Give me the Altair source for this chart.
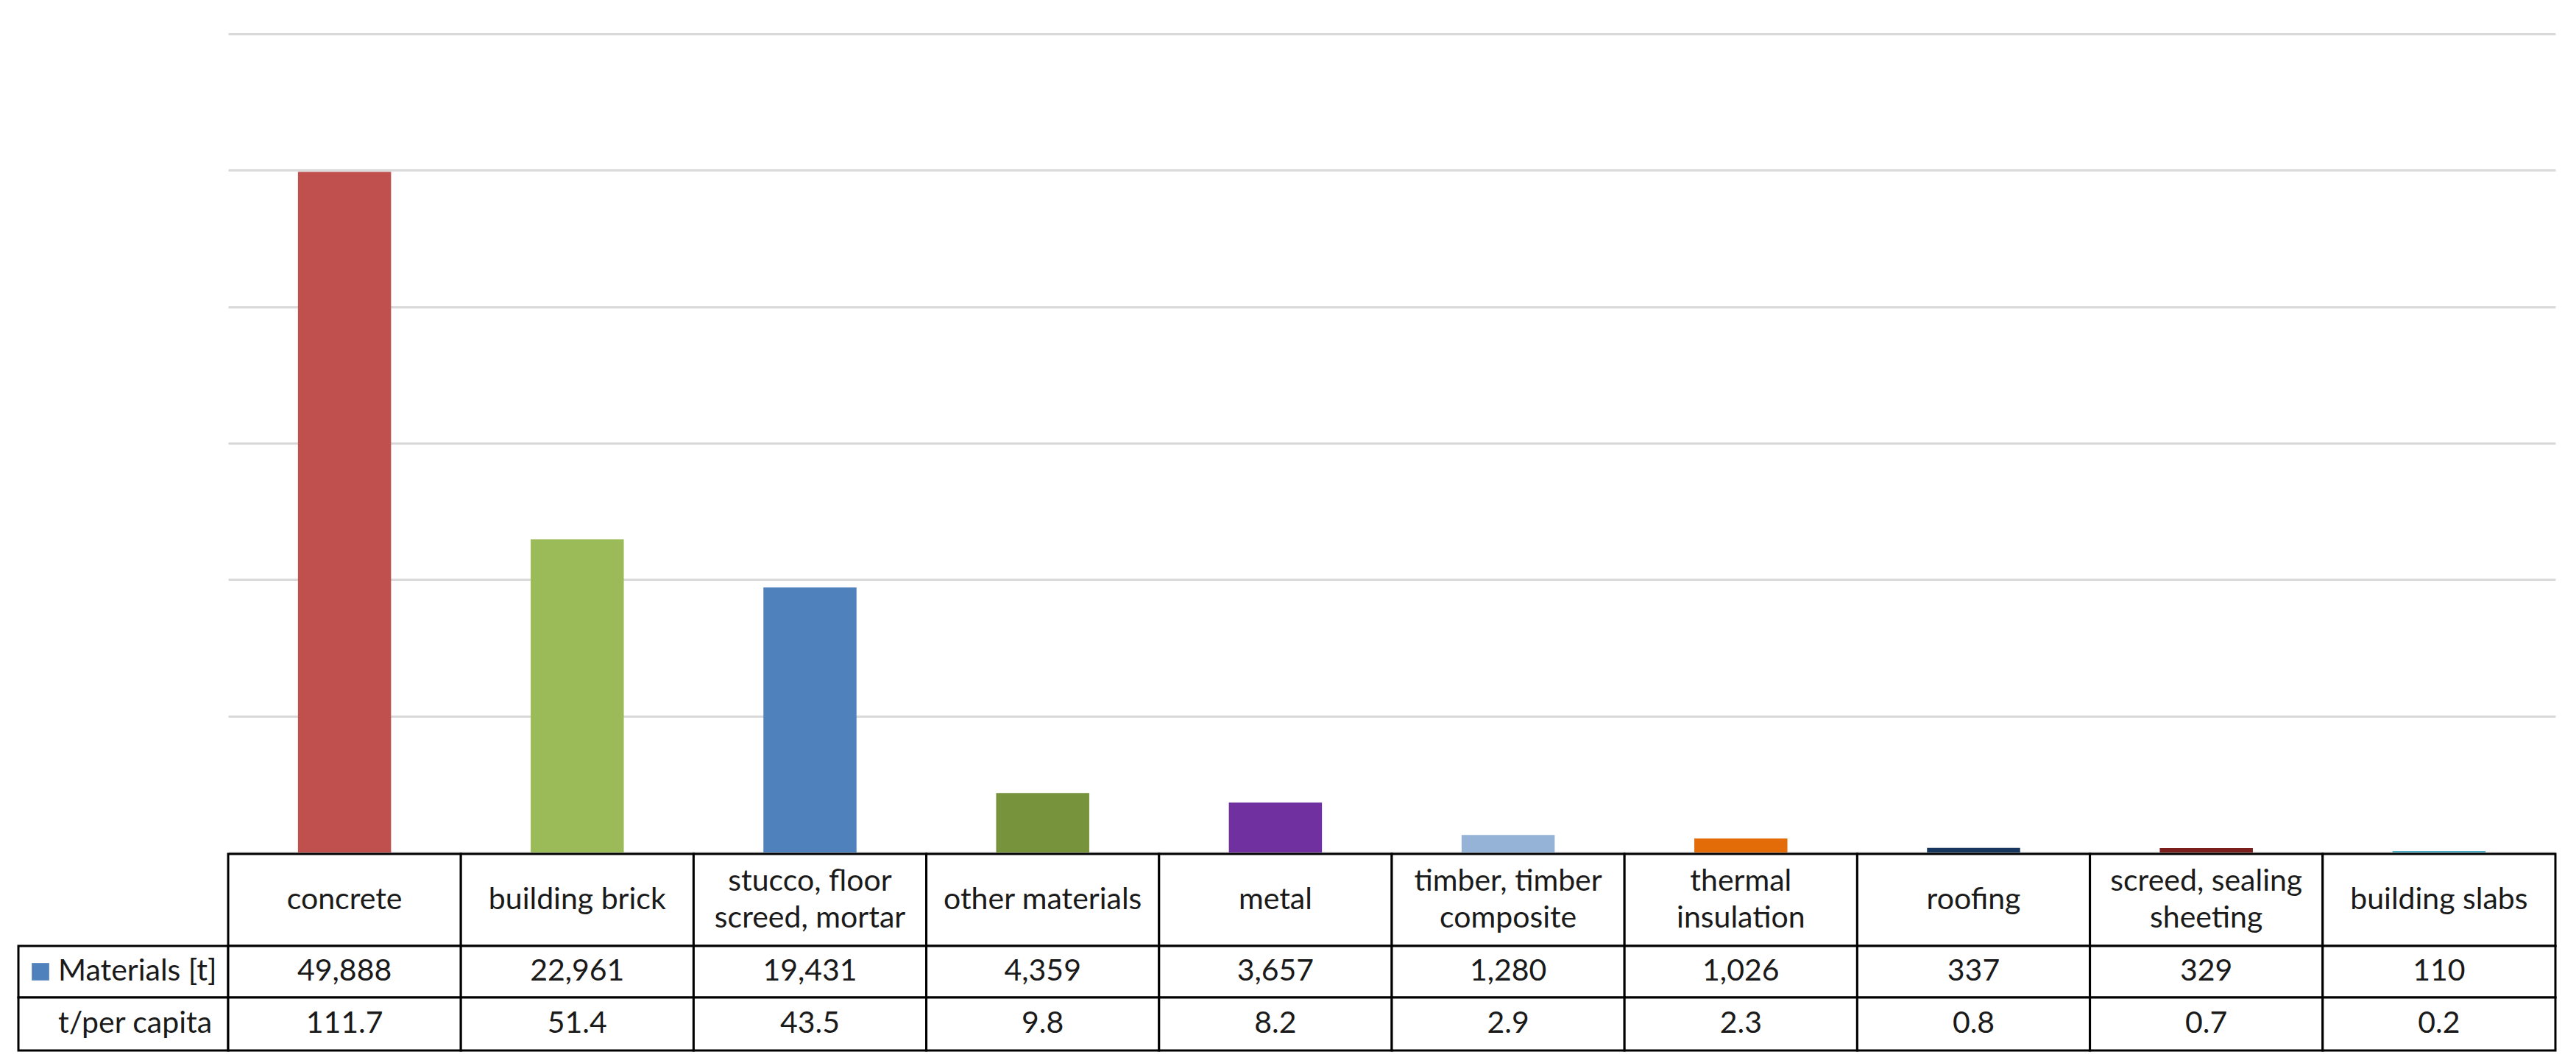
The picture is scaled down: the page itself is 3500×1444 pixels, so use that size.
import altair as alt
import pandas as pd

# ---- data ----
categories = ["concrete", "building brick", "stucco, floor screed, mortar", "other materials",
              "metal", "timber, timber composite", "thermal insulation", "roofing",
              "screed, sealing sheeting", "building slabs"]
header_labels = ["concrete", "building brick", "stucco, floor\nscreed, mortar", "other materials",
                 "metal", "timber, timber\ncomposite", "thermal\ninsulation", "roofing",
                 "screed, sealing\nsheeting", "building slabs"]
materials_t = [49888, 22961, 19431, 4359, 3657, 1280, 1026, 337, 329, 110]
t_per_capita = [111.7, 51.4, 43.5, 9.8, 8.2, 2.9, 2.3, 0.8, 0.7, 0.2]
bar_colors = ["#C0504D", "#9BBB59", "#4F81BD", "#77933C", "#7030A0",
              "#95B3D7", "#E36C09", "#17375E", "#7B1F1C", "#4BACC6"]
y_ticks = [0, 10000, 20000, 30000, 40000, 50000, 60000]
row_names = ["Materials [t]", "t/per capita"]

df = pd.DataFrame({
    "cat": categories,
    "label": header_labels,
    "materials": materials_t,
    "per_capita": t_per_capita,
})
df["multi"] = df["label"].str.contains("\n")

FONT = "Lato"
FS = 41
TXT = "#1a1a1a"
LEFT_W = 285
PLOT_W = 3162
PLOT_H = 1112
# table row boundaries (layout, pixels inside the table panel)
R0, R1, R2, R3 = 0, 125, 195, 267
TABLE_H = R3
BORDER = 3
LINE_H = 50

x_bar = alt.X("cat:N", sort=categories,
              scale=alt.Scale(domain=categories, paddingInner=0.6, paddingOuter=0.3),
              axis=None)
x_cell = alt.X("cat:N", sort=categories,
               scale=alt.Scale(domain=categories, paddingInner=0, paddingOuter=0),
               axis=None)

# ---- bar chart ----
bars = alt.Chart(df).mark_bar().encode(
    x=x_bar,
    y=alt.Y("materials:Q",
            scale=alt.Scale(domain=[0, 60000], nice=False),
            axis=alt.Axis(values=y_ticks, grid=True, gridColor="#D9D9D9", gridWidth=3,
                          labels=False, ticks=False, domain=False, title=None)),
    color=alt.Color("cat:N", scale=alt.Scale(domain=categories, range=bar_colors), legend=None),
).properties(width=PLOT_W, height=PLOT_H)

spacer = alt.Chart(pd.DataFrame({"a": [0]})).mark_point(opacity=0).encode(
    x=alt.value(0), y=alt.value(0)
).properties(width=LEFT_W, height=PLOT_H)


# ---- table: data cells ----
def cell_rects(top, bottom):
    return alt.Chart(df).mark_rect(fill="white", stroke="black", strokeWidth=BORDER).encode(
        x=x_cell, y=alt.value(top), y2=alt.value(bottom)
    )


def txt(**kw):
    base = dict(font=FONT, fontSize=FS, color=TXT, align="center", baseline="middle")
    base.update(kw)
    return base


hdr_single = alt.Chart(df).transform_filter("!datum.multi").mark_text(**txt()).encode(
    x=x_cell, y=alt.value((R0 + R1) / 2), text=alt.Text("label:N"))
hdr_multi = alt.Chart(df).transform_filter("datum.multi").mark_text(
    **txt(lineBreak="\n", lineHeight=LINE_H, dy=-LINE_H / 2)
).encode(x=x_cell, y=alt.value((R0 + R1) / 2), text=alt.Text("label:N"))
val1 = alt.Chart(df).mark_text(**txt()).encode(
    x=x_cell, y=alt.value((R1 + R2) / 2), text=alt.Text("materials:Q", format=","))
val2 = alt.Chart(df).mark_text(**txt()).encode(
    x=x_cell, y=alt.value((R2 + R3) / 2), text=alt.Text("per_capita:Q", format=".1f"))

table = alt.layer(
    cell_rects(R0, R1), cell_rects(R1, R2), cell_rects(R2, R3),
    hdr_single, hdr_multi, val1, val2
).properties(width=PLOT_W, height=TABLE_H)

# ---- table: row headers ----
hd = pd.DataFrame({"name": row_names})
head_rect1 = alt.Chart(hd).transform_filter(f"datum.name == '{row_names[0]}'").mark_rect(
    fill="white", stroke="black", strokeWidth=BORDER).encode(
    x=alt.value(0), x2=alt.value(LEFT_W), y=alt.value(R1), y2=alt.value(R2))
head_rect2 = alt.Chart(hd).transform_filter(f"datum.name == '{row_names[1]}'").mark_rect(
    fill="white", stroke="black", strokeWidth=BORDER).encode(
    x=alt.value(0), x2=alt.value(LEFT_W), y=alt.value(R2), y2=alt.value(R3))
legend_sq = alt.Chart(hd).transform_filter(f"datum.name == '{row_names[0]}'").mark_square(
    color="#4F81BD", opacity=1, size=560).encode(
    x=alt.value(30), y=alt.value((R1 + R2) / 2))
head_txt1 = alt.Chart(hd).transform_filter(f"datum.name == '{row_names[0]}'").mark_text(
    **txt(align="left")).encode(x=alt.value(54), y=alt.value((R1 + R2) / 2), text="name:N")
head_txt2 = alt.Chart(hd).transform_filter(f"datum.name == '{row_names[1]}'").mark_text(
    **txt(align="left")).encode(x=alt.value(54), y=alt.value((R2 + R3) / 2), text="name:N")

heads = alt.layer(head_rect1, head_rect2, legend_sq, head_txt1, head_txt2).properties(
    width=LEFT_W, height=TABLE_H)

top_row = alt.hconcat(spacer, bars, spacing=0, bounds="flush")
bottom_row = alt.hconcat(heads, table, spacing=0, bounds="flush")

chart = alt.vconcat(top_row, bottom_row, spacing=0).resolve_scale(
    x="independent", y="independent", color="independent"
).properties(
    padding={"left": 14, "top": 35, "right": 10, "bottom": 10},
    background="white",
).configure_view(stroke=None)

chart.save("out.html", embed_options={"renderer": "svg", "actions": False})
